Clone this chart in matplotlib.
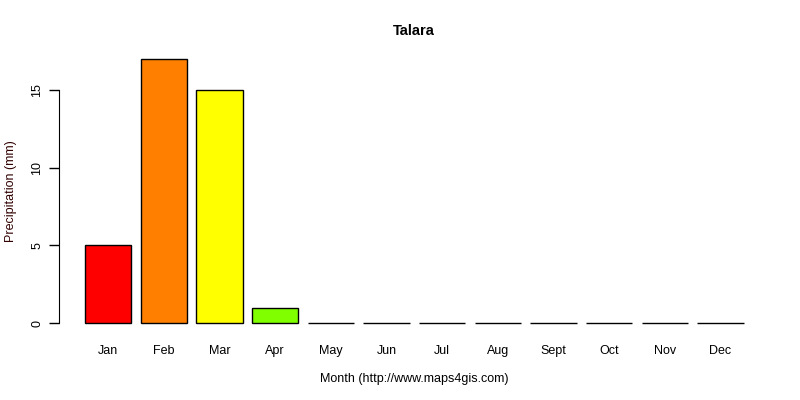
import matplotlib
matplotlib.use("Agg")
import matplotlib.pyplot as plt

months = ["Jan", "Feb", "Mar", "Apr", "May", "Jun", "Jul", "Aug",
          "Sept", "Oct", "Nov", "Dec"]
precip = [5, 17, 15, 1, 0, 0, 0, 0, 0, 0, 0, 0]
colors = ["#FF0000", "#FF8000", "#FFFF00", "#80FF00", "#00FF00", "#00FF80",
          "#00FFFF", "#0080FF", "#0000FF", "#8000FF", "#FF00FF", "#FF0080"]
yticks = [0, 5, 10, 15]

plt.rcParams["font.family"] = ["Liberation Sans", "DejaVu Sans"]

fig = plt.figure(figsize=(8, 4), dpi=100)
# R barplot: width 1, space 0.2, axes extended by 4 %
left, right = 58.6 / 800, 770 / 800
bottom, top = (400 - 333.6) / 400, (400 - 48.4) / 400
ax = fig.add_axes([left, bottom, right - left, top - bottom])

x = [0.7 + 1.2 * i for i in range(len(months))]
ax.bar(x, precip, width=1.0, color=colors, edgecolor="black", linewidth=1)

span = 14.4 - 0.2
ax.set_xlim(0.2 - 0.04 * span, 14.4 + 0.04 * span)
ax.set_ylim(-0.04 * max(precip), max(precip) * 1.04)

for s in ["top", "right", "bottom"]:
    ax.spines[s].set_visible(False)
ax.spines["left"].set_bounds(yticks[0], yticks[-1])

ax.set_yticks(yticks)
ax.set_yticklabels([str(v) for v in yticks], rotation=90, va="center")
ax.tick_params(axis="y", length=7, width=1, pad=4, labelsize=9)
ax.set_xticks(x)
ax.set_xticklabels(months)
ax.tick_params(axis="x", length=0, pad=8, labelsize=9)

ax.set_ylabel("Precipitation (mm)", fontsize=9, color="#300000", labelpad=10)
ax.set_xlabel("Month (http://www.maps4gis.com)", fontsize=9, labelpad=12)
ax.set_title("Talara", fontsize=10.5, fontweight="bold", pad=10)

fig.savefig("out.png", dpi=100)
